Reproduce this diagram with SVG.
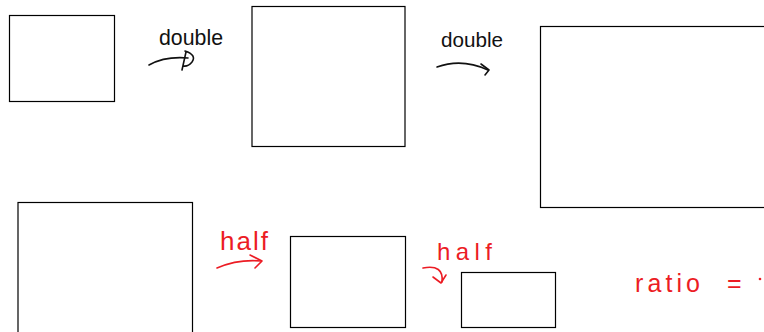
<svg xmlns="http://www.w3.org/2000/svg" width="764" height="332" viewBox="0 0 764 332">
<style>
.box{fill:none;stroke:#000;stroke-width:1.2}
.ink{fill:none;stroke:#111;stroke-width:1.6;stroke-linecap:round;stroke-linejoin:round}
.red{fill:none;stroke:#ec1c24;stroke-width:1.6;stroke-linecap:round;stroke-linejoin:round}
.tb{font-family:"Liberation Sans",Arial,sans-serif;fill:#111}
.tr{font-family:"Liberation Sans",Arial,sans-serif;fill:#ec1c24}
</style>
<rect width="764" height="332" fill="#fff"/>
<g id="box1"><rect class="box" x="9.5" y="15.5" width="105" height="86"/></g>
<g id="box2"><rect class="box" x="252" y="6.5" width="153" height="140"/></g>
<g id="box3"><rect class="box" x="540.5" y="26.5" width="240" height="181"/></g>
<g id="box4"><rect class="box" x="18" y="202.5" width="174.5" height="140"/></g>
<g id="box5"><rect class="box" x="290.5" y="236.5" width="115" height="91"/></g>
<g id="box6"><rect class="box" x="461.5" y="272.5" width="94" height="55"/></g>
<g id="labels">
<text class="tb" x="159" y="45" font-size="22" textLength="64" lengthAdjust="spacingAndGlyphs">double</text>
<text class="tb" x="441" y="47" font-size="21" textLength="62" lengthAdjust="spacingAndGlyphs">double</text>
<text class="tr" x="220" y="250" font-size="26" textLength="48" lengthAdjust="spacing">half</text>
<text class="tr" x="437" y="260" font-size="24" textLength="55" lengthAdjust="spacing">half</text>
<text class="tr" y="292" font-size="25"><tspan x="635" textLength="65" lengthAdjust="spacing">ratio</tspan> <tspan x="727">=</tspan></text>
<circle cx="760" cy="279" r="1.3" fill="#ec1c24"/>
</g>
<g id="connectors">
<path class="ink" d="M149,65 Q165,56 188,58"/>
<path class="ink" d="M185,51 Q197,55 192,62 Q188,67 183,66 M186,52 L182,70"/>
<path class="ink" d="M437,67 Q462,58 488,70"/>
<path class="ink" d="M481,64 L489,70 L485,75"/>
<path class="red" d="M217,268 Q238,259 261,261"/>
<path class="red" d="M250,255 L262,261 L255,268"/>
<path class="red" d="M423,268 Q444,264 442,282"/>
<path class="red" d="M433,277 L441,283 L446,275"/>
</g>
</svg>
